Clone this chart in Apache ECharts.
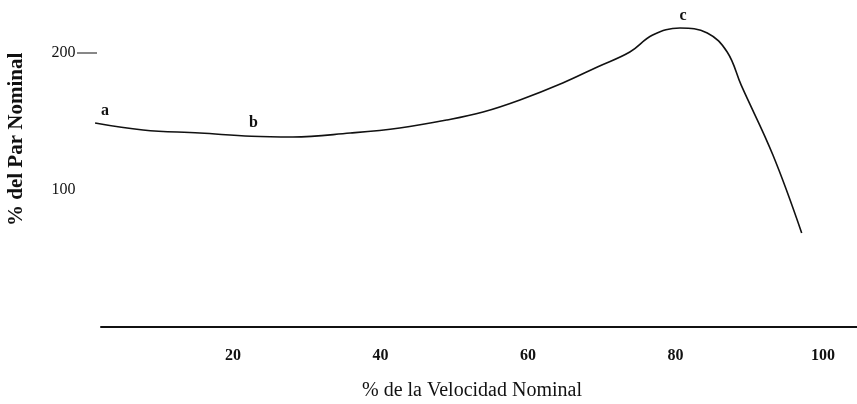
<!DOCTYPE html>
<html>
<head>
<meta charset="utf-8">
<script src="https://cdn.jsdelivr.net/npm/echarts@6/dist/echarts.min.js"></script>
<style>html,body{margin:0;padding:0;background:#fff}#c{width:857px;height:404px}</style>
</head>
<body>
<div id="c"></div>
<script>
// % de la Velocidad Nominal
var speed = [1.3, 7.8, 15.5, 22.5, 28.1, 35.9, 42.6, 49.0, 53.9, 58.9, 64.7, 69.4, 73.8, 76.9, 80.6, 84.3, 87.0, 88.9, 93.2, 97.1];
// % del Par Nominal
var torque = [148.9, 143.8, 141.6, 139.2, 138.7, 141.6, 145.3, 151.1, 156.9, 165.7, 178.1, 189.8, 200.7, 213.1, 218.2, 214.6, 200.7, 176.5, 125.5, 68.6];
// point letters and the indices they mark
var pointNames = ['a', 'b', 'c'];
var pointIdx = [0, 3, 14];
var xTicks = [20, 40, 60, 80, 100];
var yTicks = [100, 200];

var font = '"Liberation Serif", "DejaVu Serif", serif';
var chart = echarts.init(document.getElementById('c'), null, {renderer: 'canvas'});

var data = speed.map(function (x, i) {
  var d = {value: [x, torque[i]]};
  var k = pointIdx.indexOf(i);
  if (k >= 0) {
    d.label = {show: true, formatter: pointNames[k], position: 'top', distance: 4,
      offset: k === 0 ? [10, 0] : (k === 1 ? [2, -1] : [3, 0]),
      color: '#111', fontFamily: font, fontWeight: 'bold', fontSize: 16};
  }
  return d;
});

chart.setOption({
  animation: false,
  grid: {left: 85.5, right: 0, top: 53, bottom: 77, containLabel: false},
  xAxis: {
    type: 'value', min: 0, max: 104.6, interval: 20,
    axisLine: {show: false},
    axisTick: {show: false},
    splitLine: {show: false},
    axisLabel: {
      showMinLabel: true, showMaxLabel: false, margin: 21,
      color: '#111', fontFamily: font, fontWeight: 'bold', fontSize: 16,
      formatter: function (v) { return xTicks.indexOf(v) >= 0 ? String(v) : ''; }
    }
  },
  yAxis: {
    type: 'value', min: 0, max: 200, interval: 100,
    axisLine: {show: false}, axisTick: {show: false}, splitLine: {show: false},
    axisLabel: {
      margin: 10, color: '#111', fontFamily: font, fontSize: 16,
      formatter: function (v) { return yTicks.indexOf(v) >= 0 ? String(v) : ''; }
    }
  },
  series: [{
    type: 'line', data: data, smooth: 0.4, showSymbol: true, symbol: 'circle', symbolSize: 1, clip: false,
    itemStyle: {color: 'rgba(0,0,0,0)'},
    lineStyle: {color: '#111', width: 1.6}
  }]
});

var y0 = chart.convertToPixel({yAxisIndex: 0}, 0);
var y200 = chart.convertToPixel({yAxisIndex: 0}, 200);
var xStart = chart.convertToPixel({xAxisIndex: 0}, 2);
chart.setOption({
  graphic: [
    {type: 'line', shape: {x1: xStart, y1: y0, x2: 857, y2: y0}, style: {stroke: '#111', lineWidth: 2}},
    {type: 'line', shape: {x1: 77, y1: y200, x2: 97, y2: y200}, style: {stroke: '#111', lineWidth: 1}},
    {type: 'text', left: 497 - 135, top: 381,
      style: {text: '% de la Velocidad Nominal', fill: '#111', font: '20px ' + font}},
    {type: 'text', rotation: Math.PI / 2, x: 6, y: 226, originX: 0, originY: 0,
      style: {text: '% del Par Nominal', fill: '#111', font: 'bold 21px ' + font, textAlign: 'left', textVerticalAlign: 'top'}}
  ]
});
</script>
</body>
</html>
